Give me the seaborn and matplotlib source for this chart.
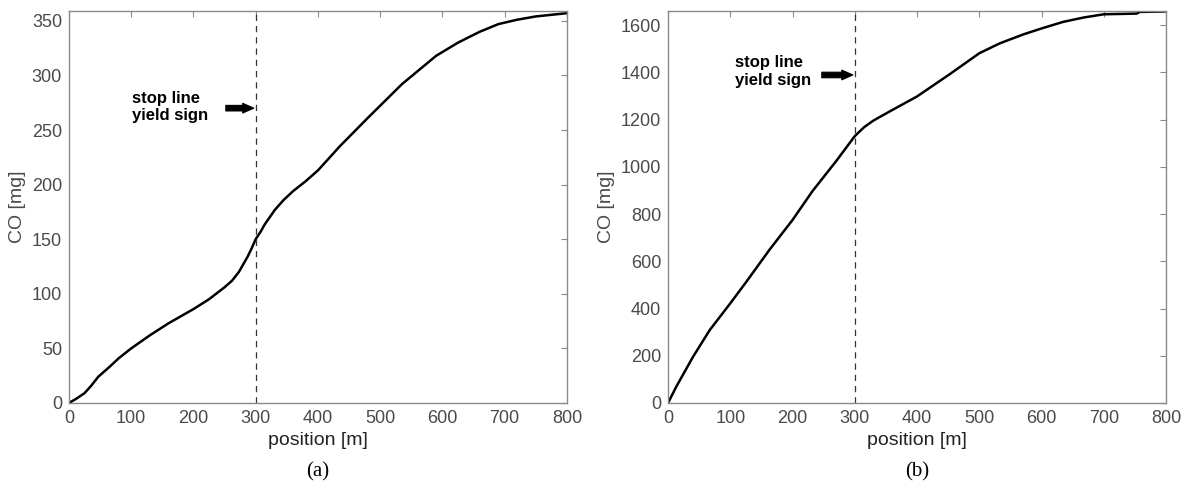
import numpy as np
import pandas as pd
import matplotlib
matplotlib.use("Agg")
import matplotlib.pyplot as plt
import seaborn as sns

# ---- data ----
pos_a = [0, 12, 25, 36, 47, 65, 80, 100, 115, 130, 160, 200, 225, 250, 262, 273, 280,
         287, 293, 300, 308, 315, 331, 345, 360, 380, 400, 435, 480, 535, 590, 625,
         660, 690, 720, 750, 800]
co_a = [0, 4, 9, 16, 24, 33, 41, 50, 56, 62, 73, 86, 95, 106, 112, 120, 127,
        134, 141, 150, 157, 164, 177, 186, 194, 203, 213, 235, 261, 292, 318, 330,
        340, 347, 351, 354, 357]

pos_b = [0, 13, 40, 67, 100, 126, 163, 200, 232, 270, 300, 315, 330, 357, 400, 454,
         500, 533, 571, 600, 635, 667, 700, 753, 758, 800]
co_b = [0, 68, 195, 309, 422, 514, 649, 775, 897, 1024, 1130, 1168, 1196, 1236, 1298, 1395,
        1481, 1523, 1561, 1586, 1614, 1632, 1646, 1649, 1656, 1658]

x_ticks = [0, 100, 200, 300, 400, 500, 600, 700, 800]
y_ticks_a = [0, 50, 100, 150, 200, 250, 300, 350]
y_ticks_b = [0, 200, 400, 600, 800, 1000, 1200, 1400, 1600]
stop_pos = 300
panel_labels = ["(a)", "(b)"]
annot_text = "stop line\nyield sign"

sns.set_style("white")
plt.rcParams['font.family'] = ['Liberation Sans', 'DejaVu Sans']

fig = plt.figure(figsize=(11.87, 4.86), dpi=100)
ax_a = fig.add_axes([0.0581, 0.1708, 0.4195, 0.8066])
ax_b = fig.add_axes([0.5628, 0.1708, 0.4195, 0.8066])

grey = "#8a8a8a"
tick_col = "#4a4a4a"

panels = [
    (ax_a, pos_a, co_a, y_ticks_a, (102, 271), (252, 270), (297, 270)),
    (ax_b, pos_b, co_b, y_ticks_b, (108, 1404), (247, 1389), (297, 1389)),
]

for i, (ax, xs, ys, yt, txt_xy, arr_start, arr_end) in enumerate(panels):
    df = pd.DataFrame({"position": xs, "CO": ys})
    sns.lineplot(data=df, x="position", y="CO", ax=ax, color="black", lw=1.8)
    ax.axvline(stop_pos, color="#333333", lw=0.9, ls=(0, (5, 4)))
    ax.set_xlim(0, 800)
    ax.set_ylim(0, max(ys) + 2)
    ax.set_xticks(x_ticks)
    ax.set_yticks(yt)
    ax.tick_params(direction="in", length=4, width=0.8, color=grey,
                   top=True, right=True, labelsize=13, labelcolor=tick_col, pad=5)
    for sp in ax.spines.values():
        sp.set_visible(True)
        sp.set_color(grey)
        sp.set_linewidth(1.0)
    ax.set_ylabel("CO [mg]", fontsize=14, color=tick_col, labelpad=4)
    ax.set_xlabel("position [m]", fontsize=14, color="#222222", labelpad=4)
    ax.text(txt_xy[0], txt_xy[1], annot_text, fontsize=12, fontweight="bold",
            color="black", va="center", ha="left", linespacing=1.2)
    ax.annotate("", xy=arr_end, xytext=arr_start,
                arrowprops=dict(arrowstyle="simple,head_width=0.7,head_length=0.8,tail_width=0.4",
                                facecolor="black", edgecolor="black", lw=0.8,
                                shrinkA=0, shrinkB=0))
    ax.text(0.5, -0.175, panel_labels[i], transform=ax.transAxes, ha="center", va="center",
            fontsize=15, family=["Liberation Serif", "DejaVu Serif"], color="black")

fig.savefig("out.png", dpi=100, facecolor="white")
